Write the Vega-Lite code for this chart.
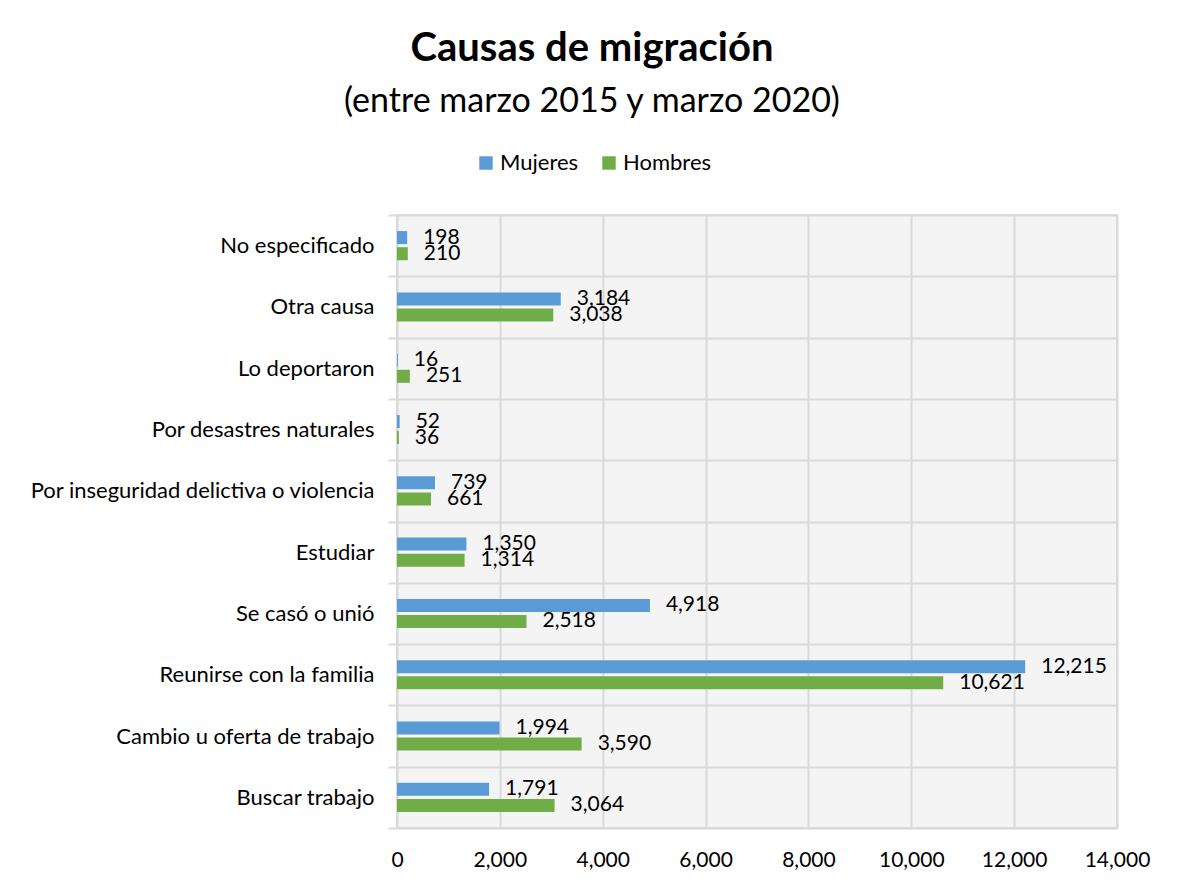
{
  "$schema": "https://vega.github.io/schema/vega-lite/v6.json",
  "width": 720,
  "height": 613,
  "autosize": {"type": "none"},
  "padding": {"left": 397, "top": 215, "right": 63, "bottom": 60},
  "background": "white",
  "config": {
    "font": "Lato",
    "view": {"stroke": "#d9d9d9", "strokeWidth": 2, "fill": "#f4f4f4"}
  },
  "title": {
    "text": "Causas de migración",
    "subtitle": "(entre marzo 2015 y marzo 2020)",
    "anchor": "middle",
    "frame": "group",
    "dx": -165,
    "fontSize": 40,
    "fontWeight": "bold",
    "color": "black",
    "subtitleFontSize": 34,
    "subtitleFontWeight": "normal",
    "subtitleColor": "black",
    "subtitlePadding": 16,
    "offset": 33
  },
  "data": {
    "values": [
      {"causa": "No especificado", "sexo": "Mujeres", "valor": 198},
      {"causa": "No especificado", "sexo": "Hombres", "valor": 210},
      {"causa": "Otra causa", "sexo": "Mujeres", "valor": 3184},
      {"causa": "Otra causa", "sexo": "Hombres", "valor": 3038},
      {"causa": "Lo deportaron", "sexo": "Mujeres", "valor": 16},
      {"causa": "Lo deportaron", "sexo": "Hombres", "valor": 251},
      {"causa": "Por desastres naturales", "sexo": "Mujeres", "valor": 52},
      {"causa": "Por desastres naturales", "sexo": "Hombres", "valor": 36},
      {"causa": "Por inseguridad delictiva o violencia", "sexo": "Mujeres", "valor": 739},
      {"causa": "Por inseguridad delictiva o violencia", "sexo": "Hombres", "valor": 661},
      {"causa": "Estudiar", "sexo": "Mujeres", "valor": 1350},
      {"causa": "Estudiar", "sexo": "Hombres", "valor": 1314},
      {"causa": "Se casó o unió", "sexo": "Mujeres", "valor": 4918},
      {"causa": "Se casó o unió", "sexo": "Hombres", "valor": 2518},
      {"causa": "Reunirse con la familia", "sexo": "Mujeres", "valor": 12215},
      {"causa": "Reunirse con la familia", "sexo": "Hombres", "valor": 10621},
      {"causa": "Cambio u oferta de trabajo", "sexo": "Mujeres", "valor": 1994},
      {"causa": "Cambio u oferta de trabajo", "sexo": "Hombres", "valor": 3590},
      {"causa": "Buscar trabajo", "sexo": "Mujeres", "valor": 1791},
      {"causa": "Buscar trabajo", "sexo": "Hombres", "valor": 3064}
    ]
  },
  "encoding": {
    "y": {
      "field": "causa",
      "type": "nominal",
      "sort": ["No especificado", "Otra causa", "Lo deportaron", "Por desastres naturales", "Por inseguridad delictiva o violencia", "Estudiar", "Se casó o unió", "Reunirse con la familia", "Cambio u oferta de trabajo", "Buscar trabajo"],
      "scale": {"paddingInner": 0, "paddingOuter": 0},
      "axis": {
        "title": null,
        "tickBand": "extent",
        "grid": true,
        "gridColor": "#d9d9d9",
        "gridWidth": 2,
        "tickColor": "#d9d9d9",
        "tickWidth": 2,
        "tickSize": 9,
        "labelPadding": 14,
        "labelLimit": 500,
        "domain": false,
        "labelFontSize": 22,
        "labelColor": "black"
      }
    },
    "yOffset": {
      "field": "sexo",
      "type": "nominal",
      "sort": ["Mujeres", "Hombres"],
      "scale": {"paddingInner": 0.19, "paddingOuter": 1.0}
    },
    "x": {
      "field": "valor",
      "type": "quantitative",
      "scale": {"domain": [0, 14000], "nice": false},
      "axis": {
        "title": null,
        "values": [0, 2000, 4000, 6000, 8000, 10000, 12000, 14000],
        "format": ",.0f",
        "grid": true,
        "gridColor": "#d9d9d9",
        "gridWidth": 2,
        "ticks": false,
        "domain": false,
        "labelFlush": false,
        "labelOverlap": false,
        "labelPadding": 21,
        "labelFontSize": 21,
        "labelColor": "black"
      }
    }
  },
  "layer": [
    {
      "mark": {"type": "bar"},
      "encoding": {
        "color": {
          "field": "sexo",
          "type": "nominal",
          "scale": {"domain": ["Mujeres", "Hombres"], "range": ["#5b9bd5", "#70ad47"]},
          "legend": {
            "orient": "none",
            "legendX": 78,
            "legendY": -63,
            "direction": "horizontal",
            "title": null,
            "symbolType": "square",
            "symbolSize": 180,
            "symbolStrokeWidth": 0,
            "labelFontSize": 22,
            "labelOffset": 3,
            "columnPadding": 19,
            "labelColor": "black",
            "padding": 0
          }
        }
      }
    },
    {
      "mark": {"type": "text", "align": "left", "baseline": "middle", "dx": 16, "fontSize": 21, "color": "black"},
      "encoding": {
        "text": {"field": "valor", "type": "quantitative", "format": ","}
      }
    }
  ]
}
